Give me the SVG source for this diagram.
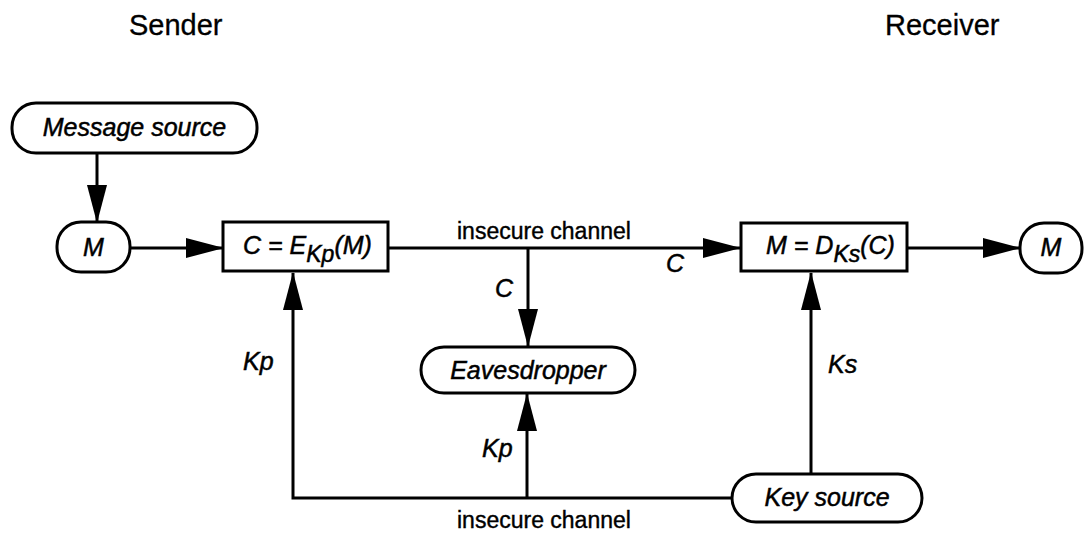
<svg xmlns="http://www.w3.org/2000/svg" width="1089" height="533" viewBox="0 0 1089 533">
<style>
  .bg { fill: #ffffff; }
  .node { fill: #ffffff; stroke: #000000; stroke-width: 3; }
  .edge { fill: none; stroke: #000000; stroke-width: 3; }
  .lbl { font-family: "Liberation Sans", Arial, sans-serif; font-style: italic; font-size: 25px; fill: #000000; stroke: #000000; stroke-width: 0.5; }
  .plain { font-family: "Liberation Sans", Arial, sans-serif; font-size: 23px; fill: #000000; stroke: #000000; stroke-width: 0.4; }
  .head { font-family: "Liberation Sans", Arial, sans-serif; font-size: 29px; fill: #000000; stroke: #000000; stroke-width: 0.3; }
</style>
<defs>
  <marker id="arr" markerUnits="userSpaceOnUse" markerWidth="38" markerHeight="22" refX="37" refY="11" orient="auto">
    <path d="M0,1 L38,11 L0,21 z" fill="#000000"/>
  </marker>
</defs>
<rect class="bg" x="0" y="0" width="1089" height="533"/>

<g id="headers">
  <text class="head" x="129" y="35">Sender</text>
  <text class="head" x="885" y="35">Receiver</text>
</g>

<g id="connectors">
  <line class="edge" x1="97" y1="153" x2="97" y2="222" marker-end="url(#arr)"/>
  <line class="edge" x1="130" y1="248" x2="223" y2="248" marker-end="url(#arr)"/>
  <line class="edge" x1="388" y1="248" x2="740" y2="248" marker-end="url(#arr)"/>
  <line class="edge" x1="528" y1="248" x2="528" y2="346" marker-end="url(#arr)"/>
  <line class="edge" x1="907" y1="248" x2="1020" y2="248" marker-end="url(#arr)"/>
  <polyline class="edge" points="732,498 293,498 293,273" marker-end="url(#arr)"/>
  <line class="edge" x1="527" y1="498" x2="527" y2="394" marker-end="url(#arr)"/>
  <line class="edge" x1="811" y1="474" x2="811" y2="273" marker-end="url(#arr)"/>
  <text class="plain" x="457" y="239">insecure channel</text>
  <text class="plain" x="457" y="528">insecure channel</text>
  <text class="lbl" x="495" y="297">C</text>
  <text class="lbl" x="666" y="272">C</text>
  <text class="lbl" x="243" y="370">Kp</text>
  <text class="lbl" x="482" y="457">Kp</text>
  <text class="lbl" x="828" y="373">Ks</text>
</g>

<g id="message-source">
  <rect class="node" x="12" y="103" width="245" height="50" rx="24"/>
  <text class="lbl" x="134.5" y="136" text-anchor="middle">Message source</text>
</g>
<g id="m-sender">
  <rect class="node" x="57" y="222" width="73" height="50" rx="24"/>
  <text class="lbl" x="93.5" y="256" text-anchor="middle">M</text>
</g>
<g id="encrypt">
  <rect class="node" x="223" y="222" width="165" height="49"/>
  <text class="lbl" x="243" y="254">C = E<tspan font-size="23" dy="8">Kp</tspan><tspan dy="-8">(M)</tspan></text>
</g>
<g id="decrypt">
  <rect class="node" x="741" y="223" width="166" height="48"/>
  <text class="lbl" x="766" y="254">M = D<tspan font-size="23" dy="8">Ks</tspan><tspan dy="-8">(C)</tspan></text>
</g>
<g id="m-receiver">
  <rect class="node" x="1020" y="223" width="62" height="50" rx="24"/>
  <text class="lbl" x="1051" y="256" text-anchor="middle">M</text>
</g>
<g id="eavesdropper">
  <rect class="node" x="421" y="347" width="214" height="46" rx="23"/>
  <text class="lbl" x="528" y="379" text-anchor="middle">Eavesdropper</text>
</g>
<g id="key-source">
  <rect class="node" x="732" y="474" width="190" height="48" rx="24"/>
  <text class="lbl" x="827" y="506" text-anchor="middle">Key source</text>
</g>
</svg>
